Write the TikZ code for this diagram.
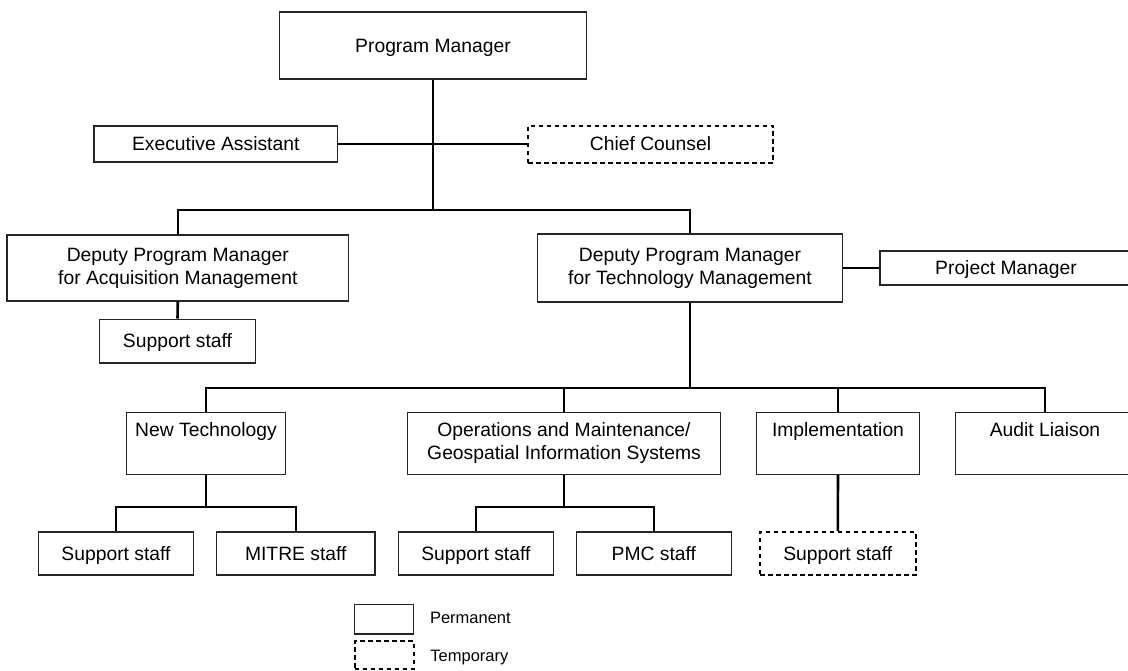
\documentclass[tikz,border=0pt]{standalone}
\usepackage{fontspec}
\setmainfont{Liberation Sans}
\begin{document}
\begin{tikzpicture}[x=1pt,y=-1pt,
  box/.style={draw=black!85, line width=1.3pt, rectangle, inner sep=0pt, align=center,
    font=\fontsize{19.3}{23.2}\selectfont},
  oneline/.style={text height=17pt, text depth=3.2pt},
  tempbox/.style={box, draw=black, line width=2pt, dash pattern=on 4.5pt off 3.5pt},
  conn/.style={draw=black, line width=2.6pt},
  legtext/.style={anchor=west, inner sep=0pt, text height=12pt, text depth=2.5pt,
    font=\fontsize{16.5}{19}\selectfont}]
\useasboundingbox (0,0) rectangle (1128,670);
\clip (0,0) rectangle (1128,670);
\fill[white] (0,0) rectangle (1128,670);

% level 0
\node[box, oneline, minimum width=307pt, minimum height=67pt] (pm) at (433,45.5) {Program Manager};
\node[box, oneline, minimum width=243.5pt, minimum height=36pt] (ea) at (215.75,144) {Executive Assistant};
\node[tempbox, oneline, minimum width=245pt, minimum height=37pt] (cc) at (650.5,144) {Chief Counsel};

% level 1
\node[box, minimum width=341.6pt, minimum height=66pt] (acq) at (177.8,268) {\strut Deputy Program Manager\\for Acquisition Management\strut};
\node[box, minimum width=304.4pt, minimum height=68pt] (tech) at (690,268) {\strut Deputy Program Manager\\for Technology Management\strut};
\node[box, oneline, minimum width=252pt, minimum height=34pt] (prm) at (1006,268) {Project Manager};
\node[box, oneline, minimum width=156pt, minimum height=43.7pt] (sacq) at (177.5,341) {Support staff};

% level 2
\node[box, minimum width=159pt, minimum height=61.6pt] (nt) at (206,443.5) {\strut New Technology\\\strut};
\node[box, minimum width=313pt, minimum height=61.6pt] (ops) at (564,443.5) {\strut Operations and Maintenance/\\Geospatial Information Systems\strut};
\node[box, minimum width=163.3pt, minimum height=61.6pt] (impl) at (838,443.5) {\strut Implementation\\\strut};
\node[box, minimum width=178.4pt, minimum height=61.6pt] (aud) at (1045,443.5) {\strut Audit Liaison\\\strut};

% level 3
\node[box, oneline, minimum width=155.3pt, minimum height=43pt] (snt) at (116,553.5) {Support staff};
\node[box, oneline, minimum width=158.4pt, minimum height=43pt] (mit) at (295.8,553.5) {MITRE staff};
\node[box, oneline, minimum width=155pt, minimum height=43pt] (sops) at (475.9,553.5) {Support staff};
\node[box, oneline, minimum width=155pt, minimum height=43pt] (pmc) at (653.9,553.5) {PMC staff};
\node[tempbox, oneline, minimum width=155.6pt, minimum height=43pt] (simp) at (837.8,553.5) {Support staff};

% legend
\node[box, minimum width=59pt, minimum height=29.7pt] (lp) at (384.2,619.2) {};
\node[tempbox, minimum width=59pt, minimum height=28pt] (lt) at (384.2,655) {};
\node[legtext] (lptext) at ([xshift=15.5pt]lp.east) {Permanent};
\node[legtext] (lttext) at ([xshift=15.5pt,yshift=-2pt]lt.east) {Temporary};

% connectors
\coordinate (b1) at (433,210);
\draw[conn] (pm.south) -- (b1);
\draw[conn] (ea.east) -- (cc.west);
\draw[conn] (acq.north) |- (b1) -| (tech.north);
\draw[conn] (acq.south) -- (sacq.north);
\draw[conn] (tech.east) -- (prm.west);

\coordinate (b2) at (690,388);
\draw[conn] (tech.south) -- (b2);
\draw[conn] (nt.north) |- (b2) -| (aud.north);
\draw[conn] (ops.north) -- (ops.north |- b2);
\draw[conn] (impl.north) -- (impl.north |- b2);

\coordinate (b3) at (206,507);
\draw[conn] (nt.south) -- (b3);
\draw[conn] (snt.north) |- (b3) -| (mit.north);

\coordinate (b4) at (564,507);
\draw[conn] (ops.south) -- (b4);
\draw[conn] (sops.north) |- (b4) -| (pmc.north);

\draw[conn] (impl.south) -- (simp.north);
\end{tikzpicture}
\end{document}
